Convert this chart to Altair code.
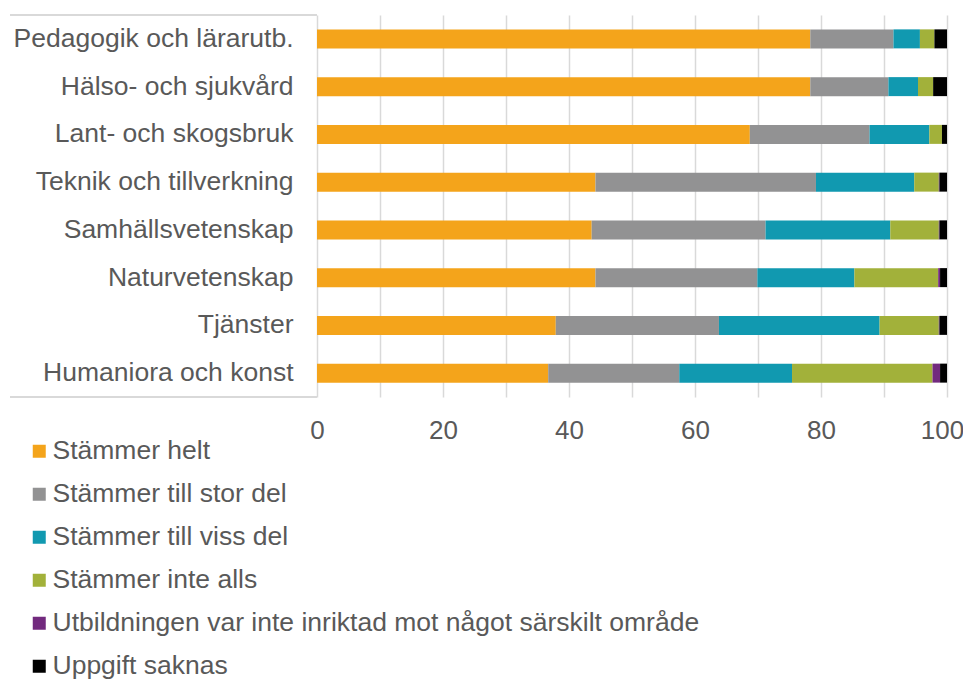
import altair as alt
import pandas as pd

categories = [
    "Pedagogik och lärarutb.",
    "Hälso- och sjukvård",
    "Lant- och skogsbruk",
    "Teknik och tillverkning",
    "Samhällsvetenskap",
    "Naturvetenskap",
    "Tjänster",
    "Humaniora och konst",
]

series = [
    "Stämmer helt",
    "Stämmer till stor del",
    "Stämmer till viss del",
    "Stämmer inte alls",
    "Utbildningen var inte inriktad mot något särskilt område",
    "Uppgift saknas",
]

stammer_helt = [78.3, 78.3, 68.7, 44.2, 43.6, 44.2, 37.9, 36.7]
stammer_stor = [13.2, 12.4, 19.0, 35.0, 27.6, 25.7, 25.9, 20.8]
stammer_viss = [4.2, 4.7, 9.5, 15.6, 19.8, 15.4, 25.5, 17.9]
stammer_inte = [2.3, 2.4, 2.0, 3.9, 7.7, 13.3, 9.4, 22.3]
ej_inriktad = [0.0, 0.0, 0.0, 0.1, 0.1, 0.3, 0.1, 1.2]
saknas = [2.0, 2.2, 0.8, 1.2, 1.2, 1.1, 1.2, 1.1]

colors = ["#F4A41B", "#929293", "#1199B0", "#A2B13A", "#722A7E", "#000000"]

values = [stammer_helt, stammer_stor, stammer_viss, stammer_inte, ej_inriktad, saknas]
rows = []
for si, (name, vals) in enumerate(zip(series, values)):
    for cat, v in zip(categories, vals):
        rows.append({"kategori": cat, "svar": name, "andel": v, "ordning": si})
df = pd.DataFrame(rows)

FONT = "Liberation Sans"
TXT = "#595959"
GRID = "#d9d9d9"
FS = 26

bars = alt.Chart(df).mark_bar(size=19).encode(
    x=alt.X(
        "andel:Q",
        stack="zero",
        scale=alt.Scale(domain=[0, 100], nice=False),
        axis=alt.Axis(
            title=None,
            values=[0, 10, 20, 30, 40, 50, 60, 70, 80, 90, 100],
            labelExpr="datum.value % 20 == 0 ? datum.label : ''",
            grid=True,
            gridColor=GRID,
            gridWidth=1.5,
            ticks=False,
            domain=False,
            labelFlush=False,
            labelOverlap=False,
            labelOffset={"condition": {"test": "datum.value == 100", "value": -5}, "value": 0},
            labelFont=FONT,
            labelFontSize=FS,
            labelColor=TXT,
            labelPadding=20,
        ),
    ),
    y=alt.Y(
        "kategori:N",
        sort=categories,
        scale=alt.Scale(paddingInner=0.6, paddingOuter=0.3),
        axis=alt.Axis(
            title=None,
            ticks=False,
            domain=False,
            grid=False,
            labelFont=FONT,
            labelFontSize=26.5,
            labelColor=TXT,
            labelPadding=24,
            labelLimit=1000,
        ),
    ),
    color=alt.Color(
        "svar:N",
        scale=alt.Scale(domain=series, range=colors),
        legend=alt.Legend(
            orient="none",
            legendX=-291,
            legendY=423,
            direction="vertical",
            title=None,
            symbolType="square",
            symbolSize=169,
            symbolStrokeWidth=0,
            labelFont=FONT,
            labelFontSize=26.5,
            labelColor=TXT,
            rowPadding=16,
            labelOffset=0,
            padding=0,
            labelLimit=1000,
        ),
    ),
    order=alt.Order("ordning:Q", sort="ascending"),
)

top_line = alt.Chart(df).mark_rule(color=GRID, strokeWidth=1.5).encode(
    x=alt.value(-307), x2=alt.value(0), y=alt.value(0)
)
bottom_line = alt.Chart(df).mark_rule(color=GRID, strokeWidth=1.5).encode(
    x=alt.value(-307), x2=alt.value(0), y=alt.value(382)
)

chart = alt.layer(top_line, bottom_line, bars).properties(
    width=630,
    height=382,
    autosize=alt.AutoSizeParams(type="none"),
    padding={"left": 309, "top": 7, "right": 16, "bottom": 283},
).configure_view(stroke=None)

chart.save("out.html", embed_options={"renderer": "svg", "actions": False})
